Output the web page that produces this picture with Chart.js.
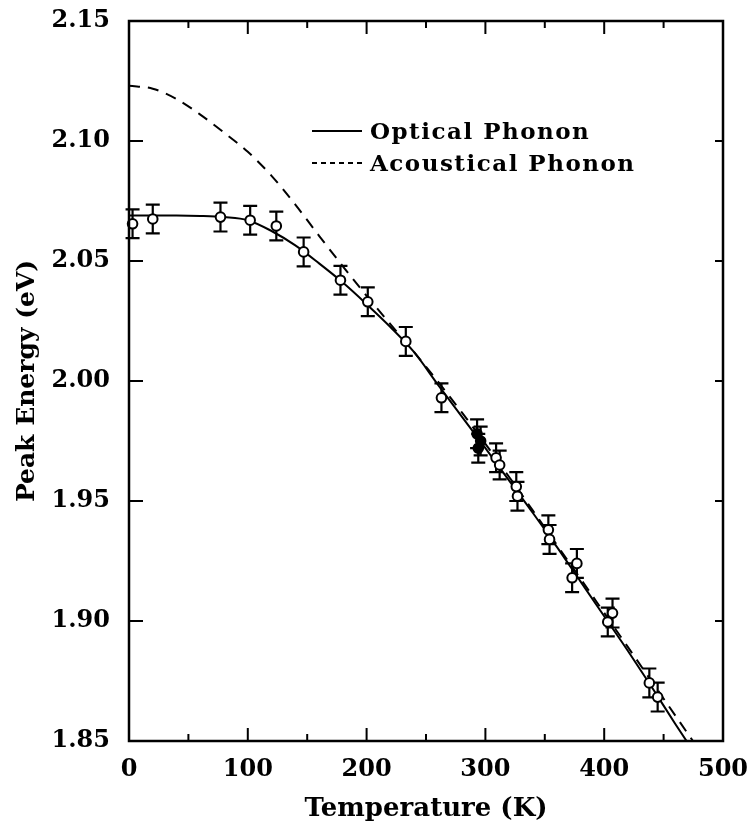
<!DOCTYPE html>
<html>
<head>
<meta charset="utf-8">
<script src="https://cdn.jsdelivr.net/npm/chart.js@4.4.1/dist/chart.umd.min.js"></script>
<style>
  html, body { margin: 0; padding: 0; background: #fff; }
</style>
</head>
<body>
<canvas id="peak-energy" width="748" height="828"></canvas>
<script>
// fitted curves, every 20 K
var curveTemps = [0, 20, 40, 60, 80, 100, 120, 140, 160, 180, 200, 220, 240, 260, 280, 300, 320, 340, 360, 380, 400, 420, 440, 460, 480];
var opticalEnergy = [2.0690, 2.0690, 2.0690, 2.0688, 2.0683, 2.0670, 2.0625, 2.0565, 2.0490, 2.0410, 2.0320, 2.0225, 2.0120, 1.9985, 1.9853, 1.9720, 1.9585, 1.9450, 1.9310, 1.9165, 1.9020, 1.8875, 1.8725, 1.8570, 1.8420];
var acousticEnergy = [2.1230, 2.1218, 2.1175, 2.1110, 2.1035, 2.0955, 2.0855, 2.0735, 2.0605, 2.0478, 2.0355, 2.0237, 2.0120, 1.9998, 1.9870, 1.9738, 1.9600, 1.9460, 1.9318, 1.9177, 1.9034, 1.8891, 1.8748, 1.8605, 1.8462];

// measured peaks with error bars
var pointTemps = [3, 20, 77, 102, 124, 147, 178, 201, 233, 263, 293, 294, 296, 309, 312, 326, 327, 353, 354, 373, 377, 403, 407, 438, 445];
var pointEnergy = [2.0655, 2.0675, 2.0683, 2.0670, 2.0646, 2.0538, 2.0420, 2.0330, 2.0165, 1.9930, 1.9780, 1.9720, 1.9750, 1.9680, 1.9650, 1.9560, 1.9520, 1.9380, 1.9340, 1.9180, 1.9240, 1.8996, 1.9033, 1.8742, 1.8683];
var pointError = [0.006, 0.006, 0.006, 0.006, 0.006, 0.006, 0.006, 0.006, 0.006, 0.006, 0.006, 0.006, 0.006, 0.006, 0.006, 0.006, 0.006, 0.006, 0.006, 0.006, 0.006, 0.006, 0.006, 0.006, 0.006];

var xTicks = [0, 100, 200, 300, 400, 500];
var xMinorTicks = [50, 150, 250, 350, 450];
var yTicks = [1.85, 1.90, 1.95, 2.00, 2.05, 2.10, 2.15];
var legendLabels = ['Optical Phonon', 'Acoustical Phonon'];

var serif = "'DejaVu Serif', serif";

function toXY(xs, ys) {
    var out = [];
    for (var i = 0; i < xs.length; i++) out.push({x: xs[i], y: ys[i]});
    return out;
}

// labels may hang over the plot edges, keep the box where it is
function noOverhang(scale) {
    scale.paddingTop = 0;
    scale.paddingBottom = 0;
    scale.paddingLeft = 0;
    scale.paddingRight = 0;
}

var errorBars = {
    id: 'errorBars',
    beforeDatasetsDraw: function(chart) {
        var ctx = chart.ctx, x = chart.scales.x, y = chart.scales.y;
        ctx.save();
        ctx.strokeStyle = '#000';
        ctx.lineWidth = 2.2;
        ctx.beginPath();
        for (var i = 0; i < pointTemps.length; i++) {
            var px = x.getPixelForValue(pointTemps[i]);
            var top = y.getPixelForValue(pointEnergy[i] + pointError[i]);
            var bot = y.getPixelForValue(pointEnergy[i] - pointError[i]);
            ctx.moveTo(px, top); ctx.lineTo(px, bot);
            ctx.moveTo(px - 7, top); ctx.lineTo(px + 7, top);
            ctx.moveTo(px - 7, bot); ctx.lineTo(px + 7, bot);
        }
        ctx.stroke();
        ctx.restore();
    }
};

var frame = {
    id: 'frame',
    afterDatasetsDraw: function(chart) {
        var ctx = chart.ctx, a = chart.chartArea, x = chart.scales.x, y = chart.scales.y;
        ctx.save();
        ctx.strokeStyle = '#000';
        ctx.lineWidth = 2.5;
        ctx.strokeRect(a.left, a.top, a.right - a.left, a.bottom - a.top);
        ctx.lineWidth = 2;
        ctx.beginPath();
        xTicks.forEach(function(t) {
            var px = x.getPixelForValue(t);
            ctx.moveTo(px, a.bottom); ctx.lineTo(px, a.bottom - 13);
            ctx.moveTo(px, a.top); ctx.lineTo(px, a.top + 13);
        });
        xMinorTicks.forEach(function(t) {
            var px = x.getPixelForValue(t);
            ctx.moveTo(px, a.bottom); ctx.lineTo(px, a.bottom - 7);
            ctx.moveTo(px, a.top); ctx.lineTo(px, a.top + 7);
        });
        yTicks.forEach(function(v) {
            var py = y.getPixelForValue(v);
            ctx.moveTo(a.left, py); ctx.lineTo(a.left + 14, py);
            ctx.moveTo(a.right, py); ctx.lineTo(a.right - 8, py);
        });
        ctx.stroke();
        ctx.restore();
    }
};

var legendBox = {
    id: 'legendBox',
    afterDraw: function(chart) {
        var ctx = chart.ctx, a = chart.chartArea;
        var x0 = a.left + 183, x1 = a.left + 233;
        var rows = [a.top + 110, a.top + 142];
        ctx.save();
        ctx.strokeStyle = '#000';
        ctx.lineWidth = 2;
        ctx.fillStyle = '#000';
        ctx.font = 'bold 23px ' + serif;
        ctx.letterSpacing = '1.5px';
        ctx.textBaseline = 'middle';
        ctx.textAlign = 'left';
        for (var i = 0; i < legendLabels.length; i++) {
            ctx.setLineDash(i == 0 ? [] : [5, 4]);
            ctx.beginPath();
            ctx.moveTo(x0, rows[i]); ctx.lineTo(x1, rows[i]);
            ctx.stroke();
            ctx.fillText(legendLabels[i], x1 + 8, rows[i] + 2);
        }
        ctx.restore();
    }
};

var ctx = document.getElementById('peak-energy').getContext('2d');
var chart = new Chart(ctx, {
    type: 'scatter',
    data: {
        datasets: [
            {
                label: 'Data',
                data: toXY(pointTemps, pointEnergy),
                showLine: false,
                pointStyle: 'circle',
                pointRadius: 4.8,
                pointBorderWidth: 2,
                pointBorderColor: '#000',
                pointBackgroundColor: pointTemps.map(function(t) { return (t >= 290 && t <= 297) ? '#000' : '#fff'; }),
                clip: 12,
                order: 0
            },
            {
                label: legendLabels[0],
                data: toXY(curveTemps, opticalEnergy),
                showLine: true,
                borderColor: '#000',
                borderWidth: 2,
                pointRadius: 0,
                cubicInterpolationMode: 'monotone',
                order: 1
            },
            {
                label: legendLabels[1],
                data: toXY(curveTemps, acousticEnergy),
                showLine: true,
                borderColor: '#000',
                borderWidth: 2,
                borderDash: [11, 8],
                pointRadius: 0,
                cubicInterpolationMode: 'monotone',
                order: 2
            }
        ]
    },
    options: {
        responsive: false,
        animation: false,
        devicePixelRatio: 1,
        layout: { padding: { left: 0, top: 21, right: 25, bottom: 0 } },
        plugins: {
            legend: { display: false },
            tooltip: { enabled: false }
        },
        scales: {
            x: {
                type: 'linear',
                min: 0,
                max: 500,
                afterBuildTicks: function(scale) { scale.ticks = xTicks.map(function(v) { return {value: v}; }); },
                afterFit: function(scale) { scale.height = 87; noOverhang(scale); },
                grid: { display: false, drawTicks: false },
                border: { display: false },
                ticks: {
                    color: '#000',
                    padding: 14,
                    maxRotation: 0,
                    font: { family: serif, size: 24, weight: 'bold' }
                },
                title: {
                    display: true,
                    text: 'Temperature (K)',
                    color: '#000',
                    padding: { top: 0, bottom: 3 },
                    font: { family: serif, size: 26, weight: 'bold' }
                }
            },
            y: {
                type: 'linear',
                min: 1.85,
                max: 2.15,
                afterBuildTicks: function(scale) { scale.ticks = yTicks.map(function(v) { return {value: v}; }); },
                afterFit: function(scale) { scale.width = 129; noOverhang(scale); },
                grid: { display: false, drawTicks: false },
                border: { display: false },
                ticks: {
                    color: '#000',
                    padding: 19,
                    font: { family: serif, size: 24, weight: 'bold' },
                    callback: function(v) { return Number(v).toFixed(2); }
                },
                title: {
                    display: true,
                    text: 'Peak Energy (eV)',
                    color: '#000',
                    padding: { top: 12, bottom: 0 },
                    font: { family: serif, size: 25, weight: 'bold' }
                }
            }
        }
    },
    plugins: [errorBars, frame, legendBox]
});
</script>
</body>
</html>
